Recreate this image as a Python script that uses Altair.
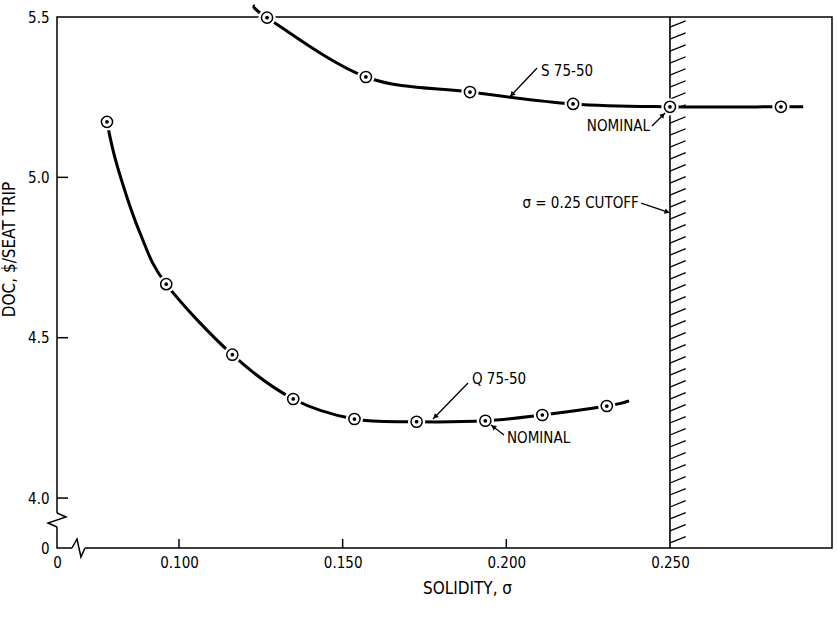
import math
import altair as alt
import pandas as pd

# ---------------- data ----------------
# Q 75-50 curve (circled data points)
q_sigma = [0.0780, 0.0961, 0.1163, 0.1349, 0.1536, 0.1726, 0.1936, 0.2110, 0.2307]
q_doc = [5.173, 4.667, 4.447, 4.309, 4.2465, 4.238, 4.241, 4.259, 4.287]
# extra positions traced on the drawn Q curve (no marker)
q_trace_sigma = [0.0812, 0.0881, 0.2375]
q_trace_doc = [5.033, 4.826, 4.303]

# S 75-50 curve (circled data points)
s_sigma = [0.1269, 0.1571, 0.1889, 0.2204, 0.2500, 0.2839]
s_doc = [5.498, 5.313, 5.266, 5.229, 5.220, 5.220]
# ends of the drawn S curve (no marker)
s_trace_sigma = [0.1232, 0.2907]
s_trace_doc = [5.535, 5.220]

cutoff_sigma = [0.25]

# axis
x_tick_values = [0.100, 0.150, 0.200, 0.250]
y_tick_values = [4.0, 4.5, 5.0, 5.5]

# annotations
ann_text = ["S 75-50", "NOMINAL", "\u03c3 = 0.25 CUTOFF", "Q 75-50", "NOMINAL"]
ann_x = [0.2106, 0.2439, 0.2405, 0.1895, 0.2002]
ann_y = [5.3326, 5.160, 4.920, 4.3712, 4.1872]
ann_align = ["left", "right", "right", "left", "left"]
arrow_tail_x = [0.2094, 0.2445, 0.2412, 0.1883, 0.1993]
arrow_tail_y = [5.341, 5.160, 4.920, 4.3587, 4.1966]
arrow_head_x = [0.2011, 0.2485, 0.2500, 0.1776, 0.1953]
arrow_head_y = [5.2515, 5.2007, 4.889, 4.2465, 4.2278]

# ---------------- layout ----------------
XMIN, XMAX = 0.06273, 0.29950
YMIN, YMAX = 3.8443, 5.5
W, H = 775, 531
KX = W / (XMAX - XMIN)
KY = H / (YMAX - YMIN)
FONT = "DejaVu Sans Condensed, Liberation Sans Narrow, Roboto Condensed, Arial Narrow, sans-serif"

xs = alt.Scale(domain=[XMIN, XMAX], nice=False, zero=False)
ys = alt.Scale(domain=[YMIN, YMAX], nice=False, zero=False)

AX = alt.Axis(
    values=[XMIN] + x_tick_values,
    labelExpr="datum.value < 0.08 ? '0' : format(datum.value, '.3f')",
    title="SOLIDITY, \u03c3",
    titleX=410, titleY=40, titleBaseline="middle", titleAnchor="start", titleAlign="center",
    labelPadding=7,
)
AY = alt.Axis(
    values=[YMIN] + y_tick_values,
    labelExpr="datum.value < 3.9 ? '0' : format(datum.value, '.1f')",
    title="DOC, $/SEAT TRIP",
    titleX=-48, titleY=232, titleAngle=270, titleBaseline="middle", titleAlign="center", titleAnchor="start",
    labelPadding=8,
)


def X(field):
    return alt.X(field, scale=xs, axis=AX)


def Y(field):
    return alt.Y(field, scale=ys, axis=AY)


# ---------------- tables ----------------
pts = pd.DataFrame(
    {"sigma": q_sigma + s_sigma, "doc": q_doc + s_doc,
     "series": ["Q"] * len(q_sigma) + ["S"] * len(s_sigma)}
)
curve = pd.DataFrame(
    {
        "sigma": q_sigma + q_trace_sigma + s_sigma + s_trace_sigma,
        "doc": q_doc + q_trace_doc + s_doc + s_trace_doc,
        "series": ["Q"] * (len(q_sigma) + len(q_trace_sigma)) + ["S"] * (len(s_sigma) + len(s_trace_sigma)),
    }
).sort_values(["series", "sigma"])

ang, tri_x, tri_y = [], [], []
for tx, ty, hx, hy in zip(arrow_tail_x, arrow_tail_y, arrow_head_x, arrow_head_y):
    dxp = (hx - tx) * KX
    dyp = (hy - ty) * KY
    ang.append(math.degrees(math.atan2(dxp, dyp)) % 360)
    L = math.hypot(dxp, dyp)
    back = 3.0
    tri_x.append(hx - dxp / L * back / KX)
    tri_y.append(hy - dyp / L * back / KY)

arrows = pd.DataFrame({"x": arrow_tail_x, "y": arrow_tail_y, "x2": arrow_head_x, "y2": arrow_head_y,
                       "tx": tri_x, "ty": tri_y, "angle": ang})
ann = pd.DataFrame({"text": ann_text, "x": ann_x, "y": ann_y, "align": ann_align})

# ---------------- layers ----------------
lines = alt.Chart(curve).mark_line(color="black", strokeWidth=3, interpolate="cardinal", clip=False).encode(
    x=X("sigma:Q"), y=Y("doc:Q"), detail="series:N",
)

cut_df = pd.DataFrame({"c": cutoff_sigma})
cut_line = alt.Chart(cut_df).mark_rule(color="black", strokeWidth=1.6).encode(x=X("c:Q"))
hatch = (
    alt.Chart(alt.sequence(3.86, 5.49, 0.0374, as_="hy"))
    .transform_calculate(hx="0.25", hx2="0.2548", hy2="datum.hy + 0.020")
    .mark_rule(color="black", strokeWidth=1.3)
    .encode(x=X("hx:Q"), x2="hx2:Q", y=Y("hy:Q"), y2="hy2:Q")
)

gap = alt.Chart(pts).mark_point(shape="circle", filled=True, color="white", size=300, opacity=1).encode(
    x=X("sigma:Q"), y=Y("doc:Q"))
ring = alt.Chart(pts).mark_point(shape="circle", fill="white", fillOpacity=1, stroke="black",
                                 strokeWidth=1.5, size=125, opacity=1).encode(
    x=X("sigma:Q"), y=Y("doc:Q"))
dot = alt.Chart(pts).mark_point(shape="circle", filled=True, color="black", size=14, opacity=1).encode(
    x=X("sigma:Q"), y=Y("doc:Q"))

# inward ticks
yt = alt.Chart(pd.DataFrame({"v": y_tick_values[:-1]})).mark_rule(color="black", strokeWidth=1.5).encode(
    y=Y("v:Q"), x=alt.value(0), x2=alt.value(11)
)
xt = alt.Chart(pd.DataFrame({"v": x_tick_values[:-1]})).mark_rule(color="black", strokeWidth=1.5).encode(
    x=X("v:Q"), y=alt.value(H), y2=alt.value(H - 9)
)

# axis breaks
brk_v = pd.DataFrame({"x": [XMIN], "y": [3.9316]})
brk_h = pd.DataFrame({"x": [0.06929], "y": [YMIN]})
brk_v_hide = alt.Chart(brk_v).mark_point(shape="M0,-0.7 L0,0.7", stroke="white", strokeWidth=4,
                                         size=400, opacity=1, clip=False).encode(x=X("x:Q"), y=Y("y:Q"))
brk_v_zz = alt.Chart(brk_v).mark_point(shape="M0,-0.7 L0.9,-0.3 L-0.9,0.3 L0,0.7", stroke="black",
                                       strokeWidth=1.5, size=400, opacity=1, clip=False).encode(
    x=X("x:Q"), y=Y("y:Q"))
brk_h_hide = alt.Chart(brk_h).mark_point(shape="M-0.65,0 L0.65,0", stroke="white", strokeWidth=4,
                                         size=400, opacity=1, clip=False).encode(x=X("x:Q"), y=Y("y:Q"))
brk_h_zz = alt.Chart(brk_h).mark_point(shape="M-0.65,0 L-0.15,-0.9 L0.25,0.9 L0.65,0", stroke="black",
                                       strokeWidth=1.5, size=400, opacity=1, clip=False).encode(
    x=X("x:Q"), y=Y("y:Q"))

# annotations
arrow_lines = alt.Chart(arrows).mark_rule(color="black", strokeWidth=1.3).encode(
    x=X("x:Q"), y=Y("y:Q"), x2="x2:Q", y2="y2:Q"
)
arrow_heads = alt.Chart(arrows).mark_point(shape="triangle-up", filled=True, color="black", size=32,
                                           opacity=1).encode(
    x=X("tx:Q"), y=Y("ty:Q"), angle=alt.Angle("angle:Q", scale=None),
)
ann_left = alt.Chart(ann[ann["align"] == "left"]).mark_text(
    align="left", baseline="middle", font=FONT, fontSize=15, color="black"
).encode(x=X("x:Q"), y=Y("y:Q"), text="text:N")
ann_right = alt.Chart(ann[ann["align"] == "right"]).mark_text(
    align="right", baseline="middle", font=FONT, fontSize=15, color="black"
).encode(x=X("x:Q"), y=Y("y:Q"), text="text:N")

chart = (
    alt.layer(
        lines, cut_line, hatch, gap, ring, dot, yt, xt,
        brk_v_hide, brk_v_zz, brk_h_hide, brk_h_zz,
        arrow_lines, arrow_heads, ann_left, ann_right,
    )
    .properties(
        width=W, height=H,
        autosize=alt.AutoSizeParams(type="none"),
        padding={"left": 57, "top": 17, "right": 5, "bottom": 80},
        background="white",
    )
    .configure_view(stroke="black", strokeWidth=1.5)
    .configure_axis(
        domain=False, ticks=False, grid=False,
        labelFont=FONT, labelFontSize=15, labelColor="black",
        titleFont=FONT, titleFontSize=17, titleColor="black", titleFontWeight="normal",
        labelOverlap=False, labelBound=False, labelFlush=False,
    )
)

chart.save("out.html", embed_options={"renderer": "svg", "actions": False})
